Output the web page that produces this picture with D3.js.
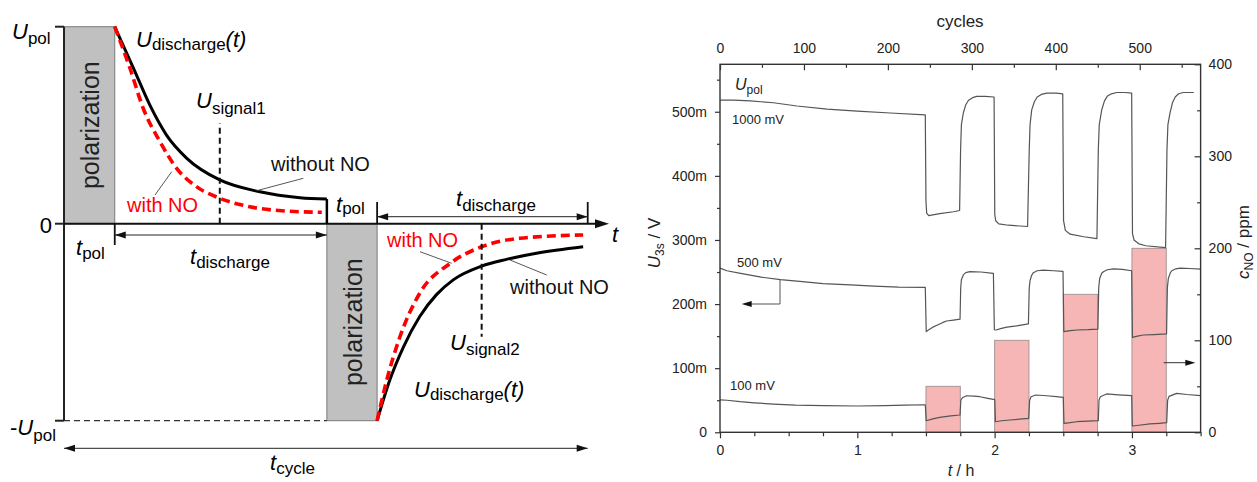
<!DOCTYPE html>
<html><head><meta charset="utf-8">
<script src="https://cdn.jsdelivr.net/npm/d3@7"></script>
<style>body{margin:0;background:#fff}svg{display:block;font-family:"Liberation Sans",Arial,sans-serif}</style>
</head><body><svg id="c" width="1257" height="482"></svg>
<script>
// ---------- LEFT PANEL (schematic) DATA ----------
// phase boundaries in units of t_pol: start, end pol1, end discharge1, end pol2, end discharge2
const schemeBounds = [0, 1, 5.18, 6.17, 10.32];
const schemeLevels = [-1, 0, 1];
const dischargeA_without = [[1,1],[1.37,0.789],[1.69,0.603],[2.02,0.45],[2.42,0.332],[3.07,0.222],[3.86,0.162],[4.65,0.132],[5.18,0.125]];
const dischargeA_with    = [[1,1],[1.30,0.789],[1.56,0.586],[1.89,0.417],[2.22,0.281],[2.61,0.188],[3.07,0.129],[3.66,0.086],[4.39,0.064],[5.08,0.058]];
const dischargeB_without = [[6.17,-1],[6.42,-0.794],[6.69,-0.625],[7.01,-0.471],[7.34,-0.36],[7.67,-0.285],[8.23,-0.215],[8.72,-0.181],[9.31,-0.15],[10.23,-0.117]];
const dischargeB_with    = [[6.17,-1],[6.36,-0.794],[6.62,-0.574],[7.01,-0.353],[7.61,-0.201],[8.23,-0.117],[8.98,-0.074],[10.23,-0.057]];
const signalTimes = [3.07, 8.23];
const signalLevels = [0.51, -0.574];

// ---------- RIGHT PANEL DATA ----------
const hourTicks = [0, 1, 2, 3];
const cycleTicks = [0, 100, 200, 300, 400, 500];
const leftTicks = [0, 0.1, 0.2, 0.3, 0.4, 0.5];
const leftTickLabels = ["0", "100m", "200m", "300m", "400m", "500m"];
const rightTicks = [0, 100, 200, 300, 400];
const noStart = [1.5, 2.0, 2.5, 3.0];
const noEnd   = [1.75, 2.25, 2.75, 3.25];
const noConc  = [50, 100, 150, 200];
// t / h , U_3s / mV
const u1000 = [[0,518],[0.1,518],[0.22,517],[0.39,514],[0.56,509],[0.78,504],[1.0,501],[1.24,498],[1.495,495],
 [1.5,360],[1.505,342],[1.52,338],[1.6,341],[1.7,344],[1.745,346],
 [1.752,440],[1.758,480],[1.772,498],[1.79,511],[1.81,518],[1.84,522],[1.87,524],[1.93,524],[1.996,523],
 [2.001,340],[2.008,330],[2.03,325],[2.1,323],[2.24,321],
 [2.252,440],[2.258,480],[2.27,503],[2.29,516],[2.31,523],[2.34,527],[2.38,529],[2.45,529],[2.496,528],
 [2.502,330],[2.515,315],[2.55,309],[2.65,305],[2.745,302],
 [2.755,440],[2.762,480],[2.78,503],[2.8,517],[2.82,524],[2.85,528],[2.89,530],[2.95,530],[2.998,529],
 [3.004,310],[3.015,300],[3.05,294],[3.1,291],[3.245,288],
 [3.255,440],[3.262,480],[3.277,498],[3.295,514],[3.315,523],[3.34,528],[3.374,530],[3.45,530]];
const u500 = [[0,256],[0.05,252],[0.15,248],[0.3,242],[0.44,238],[0.6,235],[0.75,232],[0.95,230],[1.12,228],[1.3,226.5],[1.495,226],
 [1.502,157],[1.52,160],[1.55,164],[1.58,167],[1.62,171],[1.65,173.6],[1.7,175],[1.748,176.5],
 [1.753,225],[1.758,238],[1.772,245.5],[1.79,249],[1.82,250.5],[1.9,250],[1.991,248],
 [1.998,160],[2.01,159.6],[2.05,162],[2.09,164],[2.16,166],[2.246,169],
 [2.252,225],[2.258,237],[2.27,245],[2.282,249],[2.31,252],[2.355,253],[2.43,252],[2.498,251],
 [2.504,157],[2.55,158.5],[2.6,159.6],[2.68,160],[2.752,161],
 [2.758,225],[2.765,240],[2.78,248],[2.792,250.5],[2.82,253.5],[2.865,255],[2.93,254],[2.998,252],
 [3.004,148],[3.04,150],[3.083,151.8],[3.16,152.5],[3.252,153.5],
 [3.258,225],[3.265,240],[3.28,249],[3.29,252],[3.32,255],[3.35,256],[3.42,255.5],[3.5,254.5]];
const u100 = [[0,50.5],[0.05,50],[0.146,47.7],[0.25,46],[0.388,44.1],[0.55,42.5],[0.752,41.5],[1.0,41],[1.2,41.5],[1.35,42.5],[1.495,43],
 [1.502,18],[1.55,21],[1.6,23.4],[1.68,25.5],[1.748,27],
 [1.754,50],[1.765,54],[1.795,57],[1.85,56.5],[1.893,55.5],[1.95,53],[2.001,51],
 [2.006,16.5],[2.05,18],[2.111,19.2],[2.18,20.5],[2.248,21.8],
 [2.255,50],[2.265,55.5],[2.3,58.2],[2.38,57],[2.45,55.5],[2.5,54.6],
 [2.505,14],[2.55,15],[2.598,16.5],[2.68,17.5],[2.755,18.1],
 [2.76,50],[2.77,55.5],[2.816,59.8],[2.9,58.5],[2.998,57.1],
 [3.003,9.8],[3.05,11],[3.131,13],[3.2,14],[3.253,15],
 [3.26,50],[3.27,56],[3.326,60.8],[3.4,59],[3.5,57.1]];

const svg = d3.select("#c");

function rich(parent, x, y, parts, attrs) {
  const t = parent.append("text").attr("x", x).attr("y", y);
  Object.entries(attrs || {}).forEach(([k, v]) => t.attr(k, v));
  let cur = 0;
  parts.forEach(p => {
    const ts = t.append("tspan").text(p.t).attr("font-size", p.size);
    if (p.it) ts.attr("font-style", "italic");
    if (p.fill) ts.attr("fill", p.fill);
    const sh = p.dy || 0;
    if (sh - cur) ts.attr("dy", sh - cur);
    cur = sh;
  });
  return t;
}
function head(g, x, y, dir, len, wid, col) {
  len = len || 10; wid = wid || 3.2; col = col || "#000";
  const pts = dir === "r" ? [[x, y], [x - len, y - wid], [x - len, y + wid]]
                          : [[x, y], [x + len, y - wid], [x + len, y + wid]];
  g.append("path").attr("d", "M" + pts.join("L") + "Z").attr("fill", col);
}

// ================= LEFT PANEL =================
const L = svg.append("g");
const sx = d3.scaleLinear().domain([0, 10.7]).range([64, 607]);
const sy = d3.scaleLinear().domain([-1, 1]).range([420.7, 26.7]);
const B = schemeBounds;
const BIG = 22, SUB = 17;

// polarization boxes
[[B[0], B[1], 0, 1], [B[2], B[3], -1, 0]].forEach(([t0, t1, u0, u1]) => {
  L.append("rect").attr("x", sx(t0)).attr("y", sy(u1)).attr("width", sx(t1) - sx(t0)).attr("height", sy(u0) - sy(u1))
    .attr("fill", "#c0c0c0").attr("stroke", "#7a7a7a").attr("stroke-width", 1);
  const cx = (sx(t0) + sx(t1)) / 2, cy = (sy(u0) + sy(u1)) / 2;
  L.append("text").attr("transform", `translate(${cx + 1},${cy})rotate(-90)`).attr("text-anchor", "middle")
    .attr("dy", "0.35em").attr("font-size", 25).attr("fill", "#222").text("polarization");
});

// -Upol dashed
L.append("line").attr("x1", sx(B[0])).attr("x2", sx(B[2])).attr("y1", sy(-1)).attr("y2", sy(-1))
  .attr("stroke", "#333").attr("stroke-width", 1.3).attr("stroke-dasharray", "6,4");

// axes
L.append("line").attr("x1", sx(0)).attr("x2", sx(0)).attr("y1", sy(1)).attr("y2", sy(-1)).attr("stroke", "#222").attr("stroke-width", 2);
schemeLevels.forEach(u => L.append("line").attr("x1", sx(0) - 9).attr("x2", sx(0)).attr("y1", sy(u)).attr("y2", sy(u)).attr("stroke", "#222").attr("stroke-width", 2));
L.append("line").attr("x1", sx(0)).attr("x2", sx(10.7) - 6).attr("y1", sy(0)).attr("y2", sy(0)).attr("stroke", "#111").attr("stroke-width", 2);
head(L, sx(10.7) + 2, sy(0), "r", 14, 4.5, "#111");

// curves
const lineS = d3.line().x(d => sx(d[0])).y(d => sy(d[1])).curve(d3.curveMonotoneX);
[[dischargeA_without, false], [dischargeB_without, false], [dischargeA_with, true], [dischargeB_with, true]].forEach(([d, red]) => {
  L.append("path").attr("d", lineS(d)).attr("fill", "none")
    .attr("stroke", red ? "#ff0000" : "#000").attr("stroke-width", red ? 3.6 : 3)
    .attr("stroke-dasharray", red ? "9,5" : null);
});
const endA = dischargeA_without[dischargeA_without.length - 1];
L.append("line").attr("x1", sx(endA[0])).attr("x2", sx(endA[0])).attr("y1", sy(endA[1])).attr("y2", sy(0)).attr("stroke", "#000").attr("stroke-width", 2.5);

// signal lines
signalTimes.forEach((t, i) => L.append("line").attr("x1", sx(t)).attr("x2", sx(t)).attr("y1", sy(0)).attr("y2", sy(signalLevels[i]))
  .attr("stroke", "#111").attr("stroke-width", 2).attr("stroke-dasharray", "6,4"));

// dimension markers
const dim = (t0, t1, y, hl, hr) => {
  L.append("line").attr("x1", sx(t0)).attr("x2", sx(t1)).attr("y1", y).attr("y2", y).attr("stroke", "#222").attr("stroke-width", 1);
  if (hl) head(L, sx(t0), y, "l", 11, 3.5, "#111");
  if (hr) head(L, sx(t1), y, "r", 11, 3.5, "#111");
};
L.append("line").attr("x1", sx(B[1])).attr("x2", sx(B[1])).attr("y1", sy(0)).attr("y2", 245).attr("stroke", "#111").attr("stroke-width", 1.8);
dim(B[1], B[2], 235, true, true);
[B[3], B[4]].forEach(t => L.append("line").attr("x1", sx(t)).attr("x2", sx(t)).attr("y1", sy(0)).attr("y2", 202).attr("stroke", "#111").attr("stroke-width", 1.8));
dim(B[3], B[4], 216.7, true, true);
dim(B[0], B[4], 448.3, true, true);

// leader lines
[[256.7, 190.7, 303.3, 178.3], [155, 195, 171.7, 171.7], [420, 251.7, 451.7, 263.3], [510, 260, 546.7, 275]].forEach(a =>
  L.append("line").attr("x1", a[0]).attr("y1", a[1]).attr("x2", a[2]).attr("y2", a[3]).attr("stroke", "#444").attr("stroke-width", 0.9));

// texts
const U = (x, y, sub, shift, extra) => rich(L, x, y, [{t: "U", it: true, size: BIG}, {t: sub, size: SUB, dy: shift}].concat(extra || []));
const T = (x, y, sub, shift) => rich(L, x, y, [{t: "t", it: true, size: BIG}, {t: sub, size: SUB, dy: shift}]);
U(12, 38.5, "pol", 5);
rich(L, 10, 435, [{t: "-", size: BIG}, {t: "U", it: true, size: BIG}, {t: "pol", size: SUB, dy: 6}]);
L.append("text").attr("x", 52).attr("y", 233).attr("text-anchor", "end").attr("font-size", BIG).text("0");
U(136, 47, "discharge", 3, [{t: "(t)", it: true, size: BIG, dy: 0}]);
U(414, 396.7, "discharge", 3, [{t: "(t)", it: true, size: BIG, dy: 0}]);
U(196, 108, "signal1", 6);
U(450, 350, "signal2", 5);
T(76, 255, "pol", 4);
T(190, 264, "discharge", 4);
T(336, 212, "pol", 2);
T(456, 206, "discharge", 5);
T(270, 470, "cycle", 4);
L.append("text").attr("x", 612).attr("y", 242).attr("font-size", BIG).attr("font-style", "italic").text("t");
L.append("text").attr("x", 271).attr("y", 171).attr("font-size", 20).attr("fill", "#111").text("without NO");
L.append("text").attr("x", 510).attr("y", 294).attr("font-size", 20).attr("fill", "#111").text("without NO");
L.append("text").attr("x", 127).attr("y", 211.5).attr("font-size", 20).attr("fill", "#ff0000").text("with NO");
L.append("text").attr("x", 387).attr("y", 246.5).attr("font-size", 20).attr("fill", "#ff0000").text("with NO");

// ================= RIGHT PANEL =================
const R = svg.append("g");
const x = d3.scaleLinear().domain([0, 3.5]).range([720, 1200.6]);
const xc = d3.scaleLinear().domain([0, 572.5]).range([720, 1200.6]);
const yl = d3.scaleLinear().domain([0, 0.574]).range([432.3, 64.3]);
const yr = d3.scaleLinear().domain([0, 400]).range([432.3, 64.3]);

// NO bars
R.selectAll("rect.no").data(noConc).enter().append("rect").attr("class", "no")
  .attr("x", (d, i) => x(noStart[i])).attr("width", (d, i) => x(noEnd[i]) - x(noStart[i]))
  .attr("y", d => yr(d)).attr("height", d => yr(0) - yr(d))
  .attr("fill", "#f6b6b6").attr("stroke", "#a09090").attr("stroke-width", 0.9);

// traces
const lineR = d3.line().x(d => x(d[0])).y(d => yl(d[1] / 1000));
[u1000, u500, u100].forEach(d => R.append("path").attr("d", lineR(d)).attr("fill", "none")
  .attr("stroke", "#555").attr("stroke-width", 1.2).attr("stroke-linejoin", "round"));

// axes
const axCol = "#333";
function styleAxis(g) {
  g.select(".domain").remove();
  g.selectAll("line").attr("stroke", axCol).attr("stroke-width", 1.2);
  g.selectAll("text").attr("font-size", 14).attr("fill", "#222").attr("font-family", "Liberation Sans, Arial, sans-serif");
}
const minor = (a, b, s) => d3.range(a, b + 1e-9, s);
R.append("g").attr("transform", "translate(720,0)")
  .call(d3.axisLeft(yl).tickValues(leftTicks).tickFormat((d, i) => leftTickLabels[i]).tickSize(5).tickPadding(8)).call(styleAxis);
R.append("g").attr("transform", "translate(720,0)")
  .call(d3.axisLeft(yl).tickValues(minor(0.05, 0.55, 0.1)).tickFormat("").tickSize(3)).call(styleAxis);
R.append("g").attr("transform", "translate(1200.6,0)")
  .call(d3.axisRight(yr).tickValues(rightTicks).tickSize(-6).tickPadding(8)).call(styleAxis);
R.append("g").attr("transform", "translate(1200.6,0)")
  .call(d3.axisRight(yr).tickValues(minor(50, 350, 100)).tickFormat("").tickSize(-3.5)).call(styleAxis);
R.append("g").attr("transform", "translate(0,432.3)")
  .call(d3.axisBottom(x).tickValues(hourTicks).tickFormat(d3.format("d")).tickSize(6).tickPadding(7)).call(styleAxis);
R.append("g").attr("transform", "translate(0,432.3)")
  .call(d3.axisBottom(x).tickValues(minor(0.25, 3.5, 0.25).filter(v => v % 1 !== 0)).tickFormat("").tickSize(4)).call(styleAxis);
R.append("g").attr("transform", "translate(0,64.3)")
  .call(d3.axisTop(xc).tickValues(cycleTicks).tickFormat(d3.format("d")).tickSize(-6).tickPadding(11)).call(styleAxis);
R.append("g").attr("transform", "translate(0,64.3)")
  .call(d3.axisTop(xc).tickValues(minor(50, 550, 100)).tickFormat("").tickSize(-3.5)).call(styleAxis);
R.append("rect").attr("x", 720).attr("y", 64.3).attr("width", 480.6).attr("height", 368).attr("fill", "none")
  .attr("stroke", axCol).attr("stroke-width", 1.4);

// axis titles
R.append("text").attr("x", 960).attr("y", 27).attr("text-anchor", "middle").attr("font-size", 17).attr("fill", "#222").text("cycles");
rich(R, 961, 476, [{t: "t", it: true, size: 16}, {t: " / h", size: 16}], {"text-anchor": "middle", fill: "#222"});
rich(R, 0, 0, [{t: "U", it: true, size: 17}, {t: "3s", size: 12, dy: 4}, {t: " / V", size: 17, dy: 0}],
  {"text-anchor": "middle", transform: "translate(660,243)rotate(-90)", fill: "#222"});
rich(R, 0, 0, [{t: "c", it: true, size: 17}, {t: "NO", size: 12, dy: 4}, {t: " / ppm", size: 17, dy: 0}],
  {"text-anchor": "middle", transform: "translate(1249,242)rotate(-90)", fill: "#222"});

// annotations
rich(R, 735, 90, [{t: "U", it: true, size: 16}, {t: "pol", size: 12, dy: 4}], {fill: "#222"});
R.append("text").attr("x", 732).attr("y", 124).attr("font-size", 13).attr("fill", "#222").text("1000 mV");
R.append("text").attr("x", 737).attr("y", 267).attr("font-size", 13).attr("fill", "#222").text("500 mV");
R.append("text").attr("x", 730).attr("y", 390).attr("font-size", 13).attr("fill", "#222").text("100 mV");
R.append("path").attr("d", "M780,280V304H750").attr("fill", "none").attr("stroke", "#555").attr("stroke-width", 1);
head(R, 741.7, 304, "l", 10, 3, "#111");
R.append("path").attr("d", "M1163.7,362.7H1186").attr("fill", "none").attr("stroke", "#333").attr("stroke-width", 1);
head(R, 1195.3, 362.7, "r", 10, 3, "#111");
</script></body></html>
